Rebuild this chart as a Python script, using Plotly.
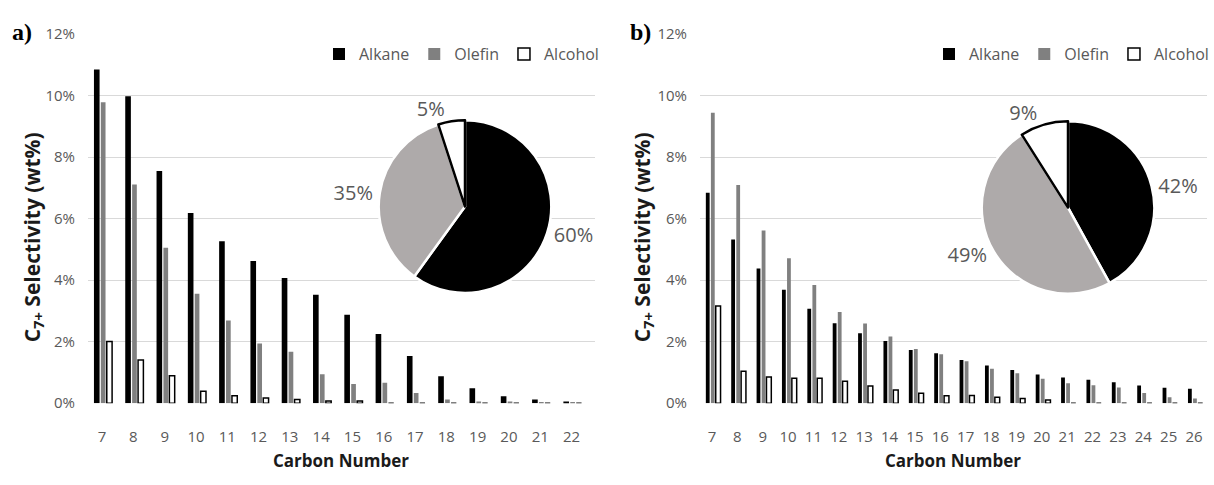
import plotly.graph_objects as go

# ---- data -------------------------------------------------------------
carbon_a = [7, 8, 9, 10, 11, 12, 13, 14, 15, 16, 17, 18, 19, 20, 21, 22]
alkane_a = [10.85, 9.98, 7.55, 6.18, 5.26, 4.62, 4.07, 3.52, 2.87, 2.25, 1.53, 0.87, 0.48, 0.22, 0.12, 0.05]
olefin_a = [9.78, 7.11, 5.05, 3.56, 2.69, 1.94, 1.67, 0.94, 0.62, 0.66, 0.33, 0.12, 0.05, 0.05, 0.04, 0.01]
alcohol_a = [2.00, 1.40, 0.89, 0.39, 0.24, 0.17, 0.12, 0.07, 0.07, 0.0, 0.0, 0.0, 0.0, 0.0, 0.0, 0.0]
pie_a = [60, 35, 5]

carbon_b = [7, 8, 9, 10, 11, 12, 13, 14, 15, 16, 17, 18, 19, 20, 21, 22, 23, 24, 25, 26]
alkane_b = [6.84, 5.32, 4.38, 3.69, 3.07, 2.60, 2.27, 2.02, 1.73, 1.62, 1.40, 1.22, 1.08, 0.93, 0.83, 0.76, 0.68, 0.57, 0.50, 0.47]
olefin_b = [9.44, 7.09, 5.61, 4.71, 3.84, 2.96, 2.59, 2.17, 1.76, 1.59, 1.36, 1.12, 0.97, 0.79, 0.65, 0.58, 0.51, 0.33, 0.19, 0.15]
alcohol_b = [3.16, 1.04, 0.85, 0.81, 0.81, 0.71, 0.56, 0.43, 0.32, 0.24, 0.25, 0.19, 0.15, 0.10, 0.0, 0.0, 0.0, 0.0, 0.0, 0.0]
pie_b = [42, 49, 9]

series_names = ["Alkane", "Olefin", "Alcohol"]
y_ticks = [0, 2, 4, 6, 8, 10, 12]
y_ticktext = ["0%", "2%", "4%", "6%", "8%", "10%", "12%"]

# ---- styling ----------------------------------------------------------
W, H = 1214, 485
SANS = "Open Sans, Noto Sans, sans-serif"
GREY_TXT = "#595959"
GRID = "#d9d9d9"
BAR_FILL = ["#000000", "#808080", "#ffffff"]
PIE_FILL = ["#000000", "#aeaaaa", "#ffffff"]


def px_x(p):
    return p / W


def px_y(p):
    return 1 - p / H


fig = go.Figure()


def add_bars(xs, cols, xaxis, yaxis, legend, widths, offsets):
    for name, vals, fill, w, off in zip(series_names, cols, BAR_FILL, widths, offsets):
        fig.add_trace(go.Bar(
            x=xs, y=vals, name=name, xaxis=xaxis, yaxis=yaxis, legend=legend,
            width=w, offset=off,
            marker=dict(color=fill,
                        line=dict(color="#000000", width=1.5 if name == "Alcohol" else 0)),
            hovertemplate=name + " C%{x}: %{y:.2f}%<extra></extra>",
        ))


add_bars(carbon_a, [alkane_a, olefin_a, alcohol_a], "x", "y", "legend",
         [0.18, 0.15, 0.17], [-0.26, -0.04, 0.15])
add_bars(carbon_b, [alkane_b, olefin_b, alcohol_b], "x2", "y2", "legend2",
         [0.15, 0.15, 0.19], [-0.24, -0.04, 0.15])


def add_pie(vals, cx, cy, r):
    fig.add_trace(go.Pie(
        values=vals, labels=series_names, sort=False, direction="clockwise", rotation=0,
        domain=dict(x=[px_x(cx - r), px_x(cx + r)], y=[px_y(cy + r), px_y(cy - r)]),
        marker=dict(colors=PIE_FILL,
                    line=dict(color=["#ffffff", "#ffffff", "#000000"], width=[2.5, 2.5, 2.5])),
        texttemplate="%{value}%", textposition="outside",
        textfont=dict(family=SANS, size=20, color=GREY_TXT),
        showlegend=False, hoverinfo="label+value",
    ))


add_pie(pie_a, 465, 204, 90)
add_pie(pie_b, 1068, 205, 90)

y_dom = [px_y(409), px_y(24)]
axis_common = dict(showline=False, zeroline=False, ticks="",
                   tickfont=dict(family=SANS, size=15, color=GREY_TXT))

legend_common = dict(orientation="h", y=px_y(45), yanchor="middle", xanchor="right",
                     font=dict(family=SANS, size=16, color=GREY_TXT),
                     bgcolor="rgba(0,0,0,0)", itemwidth=30, tracegroupgap=0)

fig.update_layout(
    width=W, height=H,
    margin=dict(l=0, r=0, t=0, b=0),
    paper_bgcolor="white", plot_bgcolor="white",
    barmode="overlay",
    xaxis=dict(domain=[px_x(88), px_x(595)], range=[6.55, 22.75], anchor="y",
               tickvals=carbon_a, ticktext=[str(c) for c in carbon_a],
               showgrid=False, ticklabelstandoff=23, **axis_common),
    yaxis=dict(domain=y_dom, range=[0, 12], anchor="x",
               tickvals=y_ticks, ticktext=y_ticktext,
               showgrid=True, gridcolor=GRID, gridwidth=1, ticklabelstandoff=12, **axis_common),
    xaxis2=dict(domain=[px_x(700), px_x(1207)], range=[6.53, 26.51], anchor="y2",
                tickvals=carbon_b, ticktext=[str(c) for c in carbon_b],
                showgrid=False, ticklabelstandoff=23, **axis_common),
    yaxis2=dict(domain=y_dom, range=[0, 12], anchor="x2",
                tickvals=y_ticks, ticktext=y_ticktext,
                showgrid=True, gridcolor=GRID, gridwidth=1, ticklabelstandoff=12, **axis_common),
    legend=dict(x=px_x(604), **legend_common),
    legend2=dict(x=px_x(1214), **legend_common),
    showlegend=True,
)

# axis titles and panel letters
ytitle = "C<sub>7+</sub> Selectivity (wt%)"
for x_c, x_mid, letter, lx in [(33, 341, "a)", 22), (643, 953, "b)", 640)]:
    fig.add_annotation(x=px_x(x_c), y=px_y(236), xref="paper", yref="paper",
                       text=ytitle, textangle=-90, showarrow=False,
                       font=dict(family=SANS, size=21, color="#1a1a1a", weight="bold"),
                       xanchor="center", yanchor="middle")
    fig.add_annotation(x=px_x(x_mid), y=px_y(469), xref="paper", yref="paper",
                       text="Carbon Number", showarrow=False,
                       font=dict(family=SANS, size=17, color="#1a1a1a", weight="bold"),
                       xanchor="center", yanchor="middle")
    fig.add_annotation(x=px_x(lx), y=px_y(22), xref="paper", yref="paper",
                       text="<b>" + letter + "</b>", showarrow=False,
                       font=dict(family="Liberation Serif, Times New Roman, serif", size=24, color="#000000"),
                       xanchor="center", yanchor="middle")

fig.write_html("out.html")
